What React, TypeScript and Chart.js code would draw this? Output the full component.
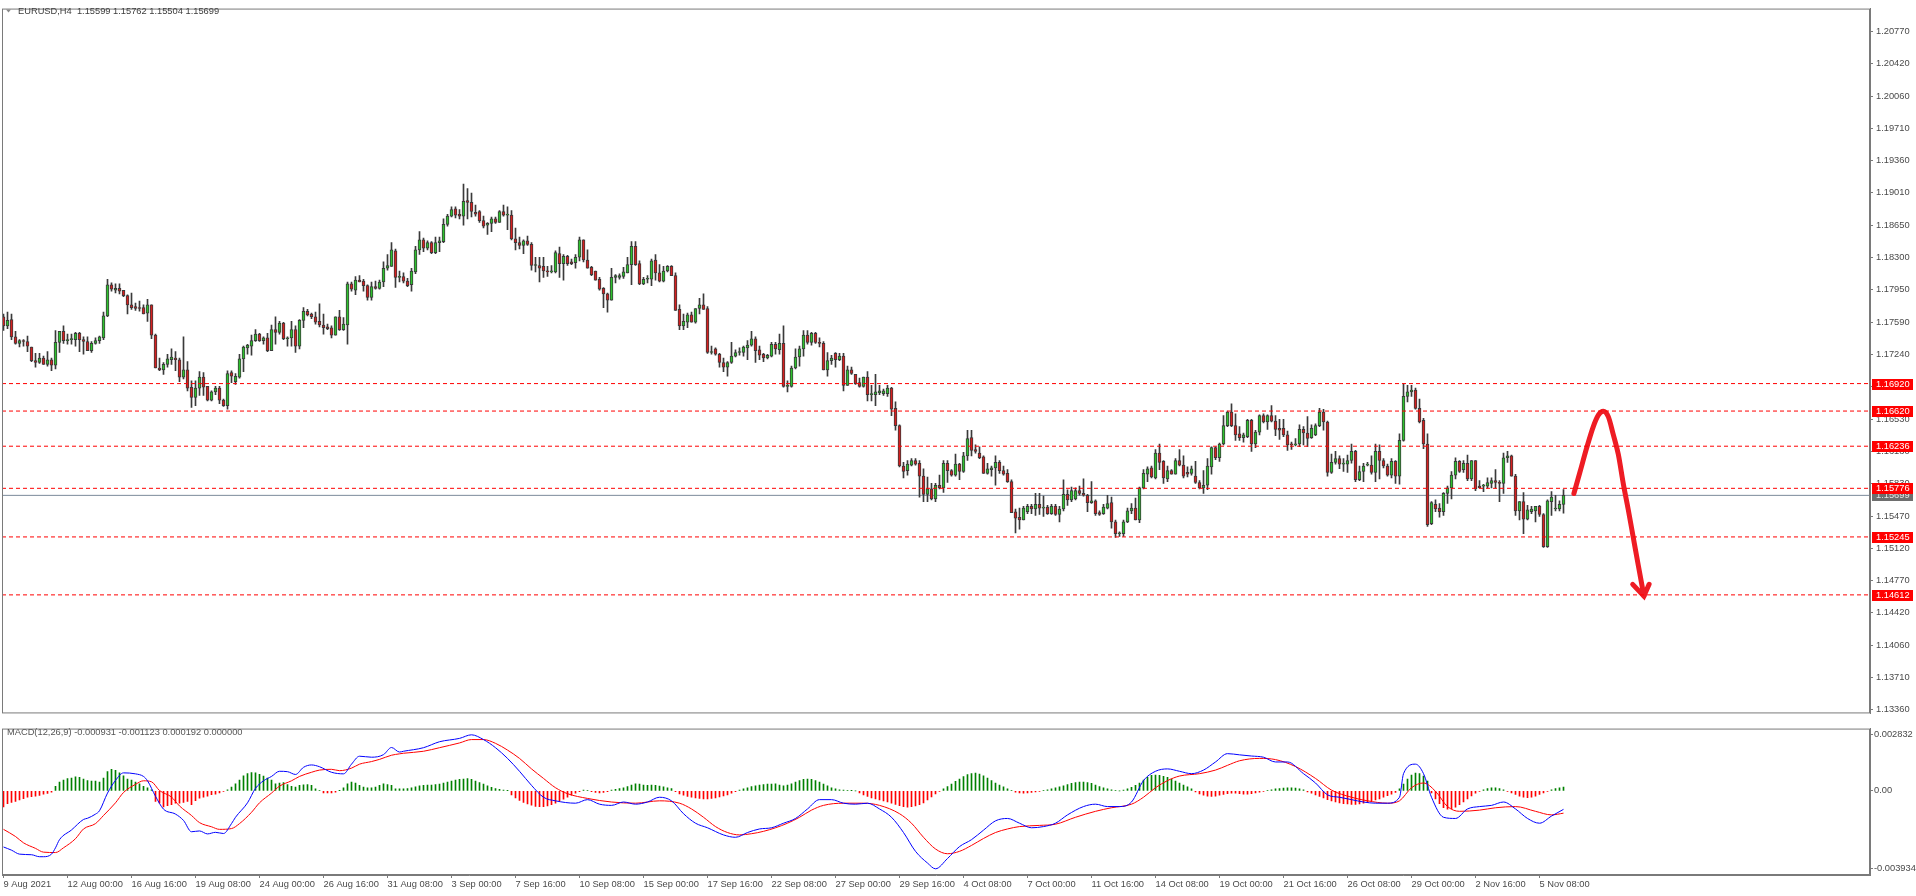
import React, { useEffect, useRef } from "react";
import { Chart, registerables } from "chart.js";
Chart.register(...registerables);

// ---------------- data ----------------
const opens = [
1.1765,1.1755,1.1762,1.1743,1.1736,1.1739,1.1738,1.1732,1.1717,1.1715,
1.1720,1.1713,1.1718,1.1712,1.1737,1.1749,1.1739,1.1740,1.1740,1.1747,
1.1740,1.1738,1.1728,1.1736,1.1739,1.1742,1.1766,1.1800,1.1794,1.1796,
1.1794,1.1788,1.1778,1.1776,1.1775,1.1775,1.1769,1.1778,1.1745,1.1709,
1.1707,1.1713,1.1718,1.1720,1.1718,1.1699,1.1707,1.1688,1.1677,1.1687,
1.1699,1.1689,1.1674,1.1683,1.1687,1.1674,1.1668,1.1704,1.1694,1.1699,
1.1719,1.1731,1.1733,1.1739,1.1746,1.1739,1.1742,1.1728,1.1751,1.1748,
1.1758,1.1741,1.1742,1.1751,1.1733,1.1761,1.1771,1.1768,1.1765,1.1760,
1.1756,1.1754,1.1753,1.1745,1.1765,1.1751,1.1756,1.1801,1.1794,1.1805,
1.1804,1.1799,1.1786,1.1798,1.1796,1.1803,1.1818,1.1820,1.1837,1.1808,
1.1809,1.1804,1.1800,1.1814,1.1838,1.1849,1.1840,1.1846,1.1835,1.1846,
1.1847,1.1866,1.1875,1.1883,1.1877,1.1875,1.1892,1.1890,1.1879,1.1880,
1.1870,1.1865,1.1867,1.1872,1.1868,1.1880,1.1876,1.1876,1.1850,1.1846,
1.1843,1.1848,1.1844,1.1821,1.1821,1.1820,1.1815,1.1814,1.1814,1.1834,
1.1823,1.1831,1.1825,1.1824,1.1830,1.1849,1.1827,1.1819,1.1815,1.1806,
1.1796,1.1790,1.1783,1.1808,1.1808,1.1809,1.1813,1.1822,1.1842,1.1823,
1.1801,1.1806,1.1806,1.1827,1.1813,1.1804,1.1815,1.1820,1.1810,1.1773,
1.1755,1.1759,1.1767,1.1759,1.1774,1.1778,1.1774,1.1726,1.1730,1.1724,
1.1715,1.1710,1.1715,1.1722,1.1726,1.1726,1.1731,1.1734,1.1741,1.1729,
1.1724,1.1720,1.1722,1.1735,1.1729,1.1736,1.1689,1.1689,1.1709,1.1721,
1.1730,1.1745,1.1737,1.1747,1.1737,1.1736,1.1707,1.1717,1.1725,1.1718,
1.1722,1.1690,1.1707,1.1702,1.1693,1.1689,1.1699,1.1680,1.1680,1.1682,
1.1681,1.1681,1.1687,1.1665,1.1646,1.1602,1.1597,1.1603,1.1608,1.1605,
1.1591,1.1571,1.1577,1.1566,1.1581,1.1578,1.1605,1.1597,1.1592,1.1604,
1.1596,1.1613,1.1633,1.1620,1.1616,1.1612,1.1594,1.1598,1.1600,1.1606,
1.1597,1.1594,1.1585,1.1552,1.1546,1.1543,1.1552,1.1558,1.1555,1.1560,
1.1556,1.1557,1.1550,1.1558,1.1549,1.1555,1.1571,1.1565,1.1566,1.1575,
1.1572,1.1570,1.1562,1.1564,1.1551,1.1550,1.1556,1.1562,1.1541,1.1528,
1.1528,1.1541,1.1553,1.1556,1.1543,1.1578,1.1593,1.1600,1.1589,1.1616,
1.1607,1.1588,1.1597,1.1593,1.1608,1.1603,1.1595,1.1594,1.1591,1.1584,
1.1578,1.1581,1.1601,1.1622,1.1611,1.1626,1.1646,1.1661,1.1646,1.1637,
1.1633,1.1634,1.1652,1.1626,1.1639,1.1657,1.1650,1.1657,1.1651,1.1643,
1.1643,1.1636,1.1626,1.1625,1.1626,1.1642,1.1638,1.1633,1.1636,1.1646,
1.1661,1.1650,1.1595,1.1606,1.1610,1.1604,1.1604,1.1608,1.1618,1.1587,
1.1596,1.1603,1.1603,1.1595,1.1618,1.1608,1.1602,1.1592,1.1607,1.1591,
1.1630,1.1678,1.1683,1.1685,1.1665,1.1652,1.1626,1.1539,1.1560,1.1556,
1.1552,1.1572,1.1578,1.1592,1.1607,1.1598,1.1605,1.1588,1.1608,1.1580,
1.1580,1.1580,1.1583,1.1586,1.1584,1.1583,1.1611,1.1613,1.1591,1.1553,
1.1563,1.1544,1.1552,1.1553,1.1558,1.1549,1.1514,1.1563,1.1555,1.1555,
1.15599];

const highs = [
1.1768,1.1770,1.1768,1.1749,1.1740,1.1740,1.1744,1.1732,1.1725,1.1725,
1.1722,1.1727,1.1720,1.1750,1.1749,1.1755,1.1746,1.1746,1.1748,1.1748,
1.1743,1.1743,1.1738,1.1742,1.1744,1.1770,1.1806,1.1802,1.1801,1.1801,
1.1794,1.1789,1.1791,1.1780,1.1782,1.1778,1.1784,1.1778,1.1746,1.1720,
1.1715,1.1724,1.1730,1.1727,1.1720,1.1743,1.1716,1.1695,1.1695,1.1705,
1.1704,1.1689,1.1684,1.1689,1.1689,1.1675,1.1706,1.1706,1.1703,1.1724,
1.1733,1.1735,1.1745,1.1751,1.1747,1.1743,1.1747,1.1756,1.1765,1.1760,
1.1759,1.1743,1.1760,1.1755,1.1762,1.1775,1.1773,1.1769,1.1770,1.1779,
1.1768,1.1757,1.1755,1.1765,1.1772,1.1764,1.1803,1.1803,1.1809,1.1810,
1.1806,1.1800,1.1803,1.1804,1.1805,1.1825,1.1833,1.1846,1.1839,1.1815,
1.1813,1.1807,1.1818,1.1842,1.1858,1.1851,1.1848,1.1847,1.1852,1.1852,
1.1872,1.1877,1.1885,1.1885,1.1882,1.1910,1.1905,1.1900,1.1887,1.1881,
1.1875,1.1868,1.1874,1.1874,1.1881,1.1887,1.1885,1.1881,1.1862,1.1852,
1.1849,1.1853,1.1846,1.1830,1.1830,1.1830,1.1820,1.1821,1.1837,1.1841,
1.1833,1.1832,1.1828,1.1833,1.1852,1.1849,1.1838,1.1820,1.1815,1.1808,
1.1797,1.1791,1.1818,1.1811,1.1812,1.1819,1.1830,1.1847,1.1847,1.1826,
1.1808,1.1810,1.1828,1.1833,1.1822,1.1820,1.1821,1.1821,1.1813,1.1778,
1.1768,1.1769,1.1770,1.1774,1.1785,1.1790,1.1776,1.1733,1.1731,1.1725,
1.1720,1.1716,1.1737,1.1729,1.1731,1.1733,1.1739,1.1749,1.1743,1.1733,
1.1725,1.1724,1.1737,1.1737,1.1746,1.1755,1.1695,1.1711,1.1730,1.1733,
1.1750,1.1750,1.1748,1.1748,1.1742,1.1738,1.1726,1.1723,1.1726,1.1725,
1.1725,1.1711,1.1710,1.1702,1.1698,1.1699,1.1705,1.1690,1.1702,1.1690,
1.1686,1.1690,1.1688,1.1672,1.1647,1.1606,1.1608,1.1610,1.1610,1.1608,
1.1599,1.1590,1.1583,1.1583,1.1592,1.1608,1.1608,1.1598,1.1615,1.1605,
1.1617,1.1641,1.1641,1.1625,1.1623,1.1613,1.1605,1.1602,1.1613,1.1608,
1.1602,1.1598,1.1587,1.1555,1.1556,1.1558,1.1560,1.1560,1.1572,1.1572,
1.1569,1.1559,1.1560,1.1560,1.1558,1.1587,1.1576,1.1579,1.1578,1.1580,
1.1588,1.1571,1.1585,1.1565,1.1553,1.1560,1.1570,1.1568,1.1543,1.1530,
1.1543,1.1556,1.1561,1.1567,1.1579,1.1598,1.1601,1.1602,1.1620,1.1626,
1.1608,1.1602,1.1598,1.1610,1.1620,1.1613,1.1601,1.1602,1.1607,1.1586,
1.1597,1.1610,1.1623,1.1623,1.1627,1.1657,1.1662,1.1670,1.1659,1.1645,
1.1638,1.1653,1.1653,1.1641,1.1658,1.1659,1.1658,1.1668,1.1657,1.1653,
1.1653,1.1640,1.1628,1.1632,1.1647,1.1645,1.1656,1.1647,1.1648,1.1665,
1.1664,1.1651,1.1615,1.1618,1.1613,1.1610,1.1614,1.1626,1.1619,1.1602,
1.1605,1.1606,1.1613,1.1626,1.1625,1.1610,1.1604,1.1610,1.1608,1.1637,
1.1692,1.1690,1.1690,1.1687,1.1675,1.1654,1.1637,1.1563,1.1565,1.1561,
1.1573,1.1580,1.1596,1.1611,1.1608,1.1608,1.1614,1.1608,1.1608,1.1586,
1.1582,1.1589,1.1589,1.1598,1.1586,1.1616,1.1618,1.1614,1.1593,1.1563,
1.1573,1.1559,1.1558,1.1558,1.1559,1.1550,1.1565,1.1574,1.1570,1.1564,
1.15762];

const lows = [
1.1750,1.1752,1.1740,1.1735,1.1732,1.1733,1.1727,1.1716,1.1710,1.1714,
1.1713,1.1711,1.1706,1.1708,1.1726,1.1736,1.1735,1.1735,1.1733,1.1727,
1.1724,1.1728,1.1726,1.1735,1.1736,1.1740,1.1765,1.1793,1.1791,1.1790,
1.1787,1.1768,1.1773,1.1772,1.1771,1.1768,1.1760,1.1741,1.1709,1.1706,
1.1702,1.1710,1.1713,1.1706,1.1694,1.1697,1.1684,1.1666,1.1668,1.1679,
1.1679,1.1673,1.1673,1.1680,1.1670,1.1667,1.1664,1.1693,1.1691,1.1698,
1.1705,1.1724,1.1723,1.1738,1.1738,1.1735,1.1727,1.1728,1.1735,1.1746,
1.1740,1.1733,1.1733,1.1726,1.1730,1.1753,1.1766,1.1763,1.1757,1.1754,
1.1746,1.1751,1.1742,1.1745,1.1750,1.1750,1.1735,1.1793,1.1789,1.1803,
1.1793,1.1783,1.1783,1.1795,1.1795,1.1798,1.1816,1.1820,1.1797,1.1803,
1.1802,1.1798,1.1793,1.1812,1.1833,1.1836,1.1838,1.1834,1.1834,1.1836,
1.1846,1.1864,1.1874,1.1873,1.1872,1.1865,1.1872,1.1874,1.1875,1.1868,
1.1862,1.1855,1.1858,1.1867,1.1868,1.1875,1.1860,1.1849,1.1838,1.1839,
1.1834,1.1843,1.1816,1.1814,1.1803,1.1808,1.1809,1.1813,1.1813,1.1808,
1.1805,1.1821,1.1822,1.1818,1.1826,1.1825,1.1818,1.1810,1.1805,1.1794,
1.1775,1.1770,1.1783,1.1802,1.1806,1.1807,1.1813,1.1800,1.1821,1.1800,
1.1800,1.1802,1.1799,1.1805,1.1803,1.1803,1.1814,1.1810,1.1772,1.1751,
1.1751,1.1753,1.1759,1.1758,1.1768,1.1773,1.1725,1.1724,1.1723,1.1710,
1.1705,1.1700,1.1714,1.1721,1.1723,1.1722,1.1718,1.1733,1.1715,1.1718,
1.1716,1.1719,1.1721,1.1724,1.1724,1.1688,1.1683,1.1688,1.1708,1.1711,
1.1722,1.1735,1.1734,1.1736,1.1732,1.1707,1.1700,1.1713,1.1710,1.1717,
1.1684,1.1690,1.1702,1.1691,1.1688,1.1688,1.1673,1.1673,1.1668,1.1680,
1.1679,1.1678,1.1657,1.1641,1.1601,1.1589,1.1592,1.1602,1.1603,1.1568,
1.1563,1.1563,1.1565,1.1563,1.1577,1.1573,1.1584,1.1591,1.1591,1.1587,
1.1595,1.1608,1.1613,1.1616,1.1610,1.1594,1.1593,1.1591,1.1581,1.1594,
1.1592,1.1584,1.1551,1.1529,1.1533,1.1543,1.1550,1.1550,1.1548,1.1549,
1.1547,1.1549,1.1549,1.1548,1.1541,1.1553,1.1559,1.1563,1.1565,1.1570,
1.1569,1.1552,1.1561,1.1548,1.1548,1.1549,1.1555,1.1534,1.1524,1.1525,
1.1525,1.1540,1.1550,1.1543,1.1540,1.1577,1.1585,1.1589,1.1588,1.1598,
1.1583,1.1585,1.1593,1.1593,1.1602,1.1589,1.1590,1.1592,1.1583,1.1577,
1.1572,1.1576,1.1593,1.1609,1.1607,1.1625,1.1645,1.1645,1.1630,1.1630,
1.1628,1.1633,1.1618,1.1622,1.1636,1.1649,1.1642,1.1650,1.1635,1.1631,
1.1634,1.1619,1.1620,1.1624,1.1623,1.1625,1.1623,1.1632,1.1635,1.1645,
1.1641,1.1591,1.1594,1.1604,1.1599,1.1596,1.1595,1.1605,1.1585,1.1586,
1.1585,1.1602,1.1593,1.1585,1.1588,1.1600,1.1591,1.1589,1.1583,1.1582,
1.1629,1.1672,1.1678,1.1664,1.1649,1.1621,1.1536,1.1538,1.1552,1.1546,
1.1548,1.1561,1.1566,1.1588,1.1595,1.1595,1.1586,1.1586,1.1575,1.1578,
1.1574,1.1578,1.1578,1.1578,1.1563,1.1572,1.1606,1.1591,1.1548,1.1543,
1.1528,1.1543,1.1550,1.1541,1.1547,1.1513,1.1513,1.1548,1.1553,1.1553,
1.15504];

const closes = [
1.1755,1.1761,1.1743,1.1736,1.1739,1.1738,1.1733,1.1717,1.1715,1.1720,
1.1713,1.1718,1.1712,1.1737,1.1749,1.1739,1.1740,1.1740,1.1747,1.1740,
1.1738,1.1728,1.1736,1.1739,1.1743,1.1766,1.1800,1.1795,1.1796,1.1793,
1.1788,1.1778,1.1775,1.1774,1.1774,1.1768,1.1778,1.1745,1.1709,1.1707,
1.1713,1.1719,1.1721,1.1718,1.1699,1.1707,1.1687,1.1677,1.1687,1.1699,
1.1688,1.1674,1.1683,1.1687,1.1674,1.1668,1.1703,1.1700,1.1700,1.1719,
1.1732,1.1734,1.1739,1.1746,1.1739,1.1742,1.1728,1.1751,1.1748,1.1758,
1.1741,1.1742,1.1751,1.1733,1.1761,1.1771,1.1767,1.1765,1.1759,1.1756,
1.1753,1.1752,1.1745,1.1765,1.1751,1.1757,1.1801,1.1795,1.1805,1.1803,
1.1799,1.1786,1.1798,1.1796,1.1803,1.1818,1.1821,1.1838,1.1808,1.1808,
1.1804,1.1799,1.1815,1.1838,1.1849,1.1840,1.1846,1.1835,1.1846,1.1848,
1.1866,1.1875,1.1882,1.1876,1.1875,1.1891,1.1890,1.1880,1.1877,1.1870,
1.1864,1.1867,1.1872,1.1868,1.1880,1.1876,1.1876,1.1850,1.1846,1.1843,
1.1848,1.1844,1.1821,1.1821,1.1818,1.1815,1.1814,1.1814,1.1835,1.1823,
1.1831,1.1823,1.1823,1.1830,1.1849,1.1827,1.1818,1.1811,1.1805,1.1795,
1.1790,1.1783,1.1808,1.1810,1.1810,1.1814,1.1822,1.1842,1.1822,1.1801,
1.1806,1.1806,1.1826,1.1813,1.1804,1.1815,1.1820,1.1810,1.1772,1.1755,
1.1760,1.1767,1.1759,1.1774,1.1778,1.1773,1.1726,1.1726,1.1724,1.1715,
1.1710,1.1715,1.1722,1.1726,1.1726,1.1732,1.1734,1.1741,1.1728,1.1723,
1.1720,1.1723,1.1735,1.1730,1.1736,1.1689,1.1689,1.1709,1.1721,1.1730,
1.1745,1.1737,1.1747,1.1737,1.1736,1.1707,1.1717,1.1720,1.1718,1.1722,
1.1690,1.1707,1.1703,1.1692,1.1689,1.1699,1.1680,1.1681,1.1683,1.1684,
1.1684,1.1687,1.1664,1.1646,1.1602,1.1596,1.1604,1.1608,1.1604,1.1591,
1.1571,1.1577,1.1566,1.1581,1.1578,1.1605,1.1597,1.1592,1.1604,1.1596,
1.1613,1.1632,1.1619,1.1618,1.1611,1.1594,1.1599,1.1600,1.1606,1.1597,
1.1593,1.1585,1.1551,1.1545,1.1543,1.1556,1.1558,1.1555,1.1560,1.1556,
1.1556,1.1550,1.1558,1.1549,1.1555,1.1571,1.1565,1.1575,1.1575,1.1572,
1.1570,1.1562,1.1564,1.1550,1.1549,1.1557,1.1561,1.1541,1.1528,1.1528,
1.1541,1.1553,1.1556,1.1543,1.1578,1.1594,1.1599,1.1590,1.1616,1.1606,
1.1589,1.1597,1.1593,1.1608,1.1603,1.1591,1.1593,1.1599,1.1584,1.1578,
1.1581,1.1602,1.1622,1.1611,1.1626,1.1646,1.1661,1.1646,1.1636,1.1633,
1.1636,1.1652,1.1626,1.1639,1.1657,1.1650,1.1657,1.1651,1.1642,1.1641,
1.1636,1.1625,1.1625,1.1626,1.1642,1.1638,1.1632,1.1643,1.1646,1.1661,
1.1650,1.1595,1.1606,1.1610,1.1604,1.1604,1.1608,1.1618,1.1587,1.1596,
1.1602,1.1603,1.1595,1.1618,1.1608,1.1602,1.1592,1.1607,1.1591,1.1630,
1.1678,1.1683,1.1685,1.1665,1.1650,1.1626,1.1538,1.1562,1.1555,1.1552,
1.1572,1.1578,1.1592,1.1607,1.1596,1.1605,1.1588,1.1608,1.1577,1.1578,
1.1580,1.1584,1.1586,1.1584,1.1583,1.1611,1.1613,1.1591,1.1553,1.1563,
1.1544,1.1554,1.1555,1.1558,1.1549,1.1514,1.1564,1.1568,1.1555,1.1560,
1.15699];

const levels = [1.16920, 1.16620, 1.16236, 1.15776, 1.15245, 1.14612];
const currentPrice = 1.15699;
const priceTicks = [1.20770,1.20420,1.20060,1.19710,1.19360,1.19010,1.18650,1.18300,1.17950,1.17590,1.17240,1.16890,1.16530,1.16180,1.15830,1.15470,1.15120,1.14770,1.14420,1.14060,1.13710,1.13360];
const dateLabels = ["9 Aug 2021","12 Aug 00:00","16 Aug 16:00","19 Aug 08:00","24 Aug 00:00","26 Aug 16:00","31 Aug 08:00","3 Sep 00:00","7 Sep 16:00","10 Sep 08:00","15 Sep 00:00","17 Sep 16:00","22 Sep 08:00","27 Sep 00:00","29 Sep 16:00","4 Oct 08:00","7 Oct 00:00","11 Oct 16:00","14 Oct 08:00","19 Oct 00:00","21 Oct 16:00","26 Oct 08:00","29 Oct 00:00","2 Nov 16:00","5 Nov 08:00"];
const barsPerDateLabel = 16;
const headerText = "EURUSD,H4  1.15599 1.15762 1.15504 1.15699";
const macdText = "MACD(12,26,9) -0.000931 -0.001123 0.000192 0.000000";
const macdTicks = [0.002832, 0, -0.003934];

const macdHistogram = [
-0.00081,-0.00065,-0.00058,-0.00053,-0.00045,-0.00039,-0.00032,-0.00029,-0.00026,-0.00023,
-0.00016,-0.00013,-0.00006,0.00023,0.00045,0.00055,0.00062,0.00065,0.00071,0.00068,
0.00060,0.00052,0.00049,0.00049,0.00044,0.00065,0.00097,0.00109,0.00104,0.00091,
0.00076,0.00060,0.00055,0.00044,0.00036,0.00023,0.00016,0.00006,-0.00053,-0.00062,
-0.00081,-0.00075,-0.00070,-0.00062,-0.00062,-0.00058,-0.00053,-0.00070,-0.00049,-0.00037,
-0.00032,-0.00026,-0.00019,-0.00016,-0.00010,-0.00003,0.00006,0.00019,0.00036,0.00055,
0.00076,0.00087,0.00092,0.00091,0.00084,0.00075,0.00065,0.00055,0.00036,0.00039,
0.00042,0.00032,0.00023,0.00019,0.00028,0.00031,0.00032,0.00028,0.00011,0.00003,
-0.00010,-0.00010,-0.00010,-0.00006,0.00001,0.00016,0.00036,0.00044,0.00039,0.00028,
0.00019,0.00016,0.00016,0.00019,0.00028,0.00036,0.00032,0.00028,0.00011,0.00011,
0.00010,0.00012,0.00015,0.00020,0.00025,0.00028,0.00030,0.00030,0.00032,0.00035,
0.00040,0.00045,0.00050,0.00055,0.00058,0.00060,0.00062,0.00058,0.00050,0.00042,0.00035,
0.00025,0.00018,0.00012,0.00008,0.00004,0.00001,
-0.00020,-0.00035,-0.00048,-0.00058,-0.00066,-0.00072,-0.00078,-0.00080,-0.00080,-0.00076,-0.00070,-0.00062,-0.00052,-0.00042,-0.00032,-0.00022,-0.00012,
-0.00004,0.00004,0.00002,-0.00004,-0.00008,-0.00010,-0.00008,-0.00004,0.00004,0.00008,0.00012,0.00016,
0.00022,0.00030,0.00036,0.00034,0.00030,0.00028,0.00030,0.00028,0.00024,0.00020,0.00016,0.00012,
-0.00004,-0.00015,-0.00022,-0.00028,-0.00032,-0.00035,-0.00038,-0.00040,-0.00040,-0.00038,-0.00035,-0.00030,-0.00025,-0.00020,-0.00012,
-0.00004,0.00004,0.00010,0.00016,0.00022,0.00026,0.00030,0.00032,0.00034,0.00035,0.00036,0.00030,0.00026,0.00030,0.00036,
0.00045,0.00052,0.00058,0.00060,0.00058,0.00052,0.00044,0.00035,
0.00025,0.00016,0.00010,0.00006,0.00004,0.00002,0.00001,0.00000,
-0.00010,-0.00020,-0.00028,-0.00035,-0.00040,-0.00045,-0.00050,-0.00056,-0.00062,-0.00068,-0.00075,-0.00080,-0.00082,-0.00080,-0.00076,-0.00070,-0.00060,-0.00045,
-0.00030,-0.00015,-0.00002,0.00010,0.00022,0.00035,
0.00048,0.00060,0.00072,0.00082,0.00088,0.00090,0.00085,0.00076,0.00065,0.00052,0.00040,
0.00030,0.00020,0.00010,0.00002,-0.00006,-0.00010,-0.00012,-0.00010,-0.00008,-0.00005,-0.00002,0.00002,0.00006,0.00010,
0.00015,0.00020,0.00026,0.00032,0.00038,0.00042,0.00045,0.00045,0.00042,0.00038,0.00030,0.00022,
0.00015,0.00010,0.00006,0.00002,0.00000,0.00004,0.00010,0.00018,0.00028,
0.00040,0.00055,0.00068,0.00078,0.00080,0.00078,0.00074,0.00068,0.00060,0.00050,0.00040,0.00030,0.00020,0.00010,
-0.00005,-0.00015,-0.00022,-0.00026,-0.00028,-0.00026,-0.00022,-0.00018,
-0.00014,-0.00012,-0.00012,-0.00014,-0.00016,-0.00016,-0.00014,-0.00010,-0.00006,-0.00002,0.00002,0.00006,
0.00010,0.00012,0.00014,0.00016,0.00016,0.00014,0.00010,0.00006,
-0.00005,-0.00012,-0.00020,-0.00028,-0.00036,-0.00044,-0.00050,-0.00056,-0.00060,-0.00064,-0.00066,-0.00068,-0.00068,-0.00066,-0.00062,-0.00058,-0.00052,-0.00046,-0.00040,-0.00032,-0.00024,-0.00016,-0.00008,
0.00010,0.00035,0.00060,0.00080,0.00090,0.00088,0.00075,0.00050,
-0.00010,-0.00040,-0.00065,-0.00085,-0.00092,-0.00090,-0.00082,-0.00070,-0.00055,-0.00040,
-0.00025,-0.00012,-0.00002,0.00006,0.00012,0.00016,0.00016,0.00012,
0.00006,-0.00002,-0.00010,-0.00018,-0.00026,-0.00032,-0.00034,-0.00032,-0.00026,
-0.00018,-0.00010,-0.00002,0.00006,0.00012,0.00016,0.000192];

const macdBars = [0,2,4,7,9,10,12,13,14,17,20,21,23,24,26,28,30,33,35,36,38,40,43,45,47,49,51,53,55,57,58,61,63,65,67,69,71,73,75,77,79,82,85,87,89,92,95,97,99,
100,105,109,114,117,120,123,126,129,132,135,138,143,146,149,152,155,158,161,164,167,170,173,176,180,183,186,189,192,195,198,201,204,207,210,213,216,219,222,225,228,231,233,236,239,242,245,248,251,254,257,260,263,266,270,273,276,279,282,285,288,291,294,297,300,303,306,309,312,315,318,321,325,328,331,334,337,340,343,346,349,350,353,355,357,360,363,366,369,372,375,378,381,384,387,390];
const macdMain = [-0.00283,-0.00299,-0.00319,-0.00322,-0.00332,-0.00332,-0.00319,-0.00287,-0.00246,-0.00197,-0.00144,-0.00138,-0.00117,-0.00100,-0.00011,0.00053,0.00091,0.00086,0.00073,0.00051,-0.00027,-0.00092,-0.00117,-0.00149,-0.00206,-0.00202,-0.00217,-0.00209,-0.00215,-0.00165,-0.00133,-0.00060,0.00013,0.00051,0.00073,0.00099,0.00097,0.00083,0.00119,0.00131,0.00122,0.00094,0.00086,0.00135,0.00175,0.00170,0.00183,0.00219,0.00196,
0.00200,0.00218,0.00248,0.00265,0.00283,0.00259,0.00218,0.00164,0.00099,0.00028,-0.00032,-0.00050,-0.00062,-0.00044,-0.00067,-0.00073,-0.00056,-0.00067,-0.00056,-0.00032,-0.00050,-0.00115,-0.00163,-0.00186,-0.00222,-0.00234,-0.00210,-0.00192,-0.00186,-0.00163,-0.00139,-0.00091,-0.00044,-0.00044,-0.00062,-0.00067,-0.00062,-0.00091,-0.00133,-0.00210,-0.00305,-0.00364,-0.00393,-0.00341,-0.00281,-0.00246,-0.00198,-0.00151,-0.00139,-0.00163,-0.00186,-0.00180,-0.00163,-0.00121,-0.00079,-0.00067,-0.00079,-0.00079,-0.00056,0.00052,0.00099,0.00111,0.00099,0.00087,0.00105,0.00146,0.00188,0.00182,0.00176,0.00170,0.00146,0.00146,0.00087,0.00040,-0.00020,-0.00032,-0.00044,-0.00056,-0.00062,-0.00062,-0.00032,0.00087,0.00135,0.00087,-0.00032,-0.00133,-0.00139,-0.00091,-0.00079,-0.00073,-0.00056,-0.00091,-0.00139,-0.00163,-0.00127,-0.000931];

const signalBars = [0,3,5,8,10,13,15,18,20,23,25,28,30,33,35,37,39,42,44,47,49,52,54,57,59,62,64,67,69,72,74,77,79,82,84,87,89,92,94,97,99,
100,105,109,114,117,120,123,126,129,132,135,138,141,146,152,158,164,169,172,175,178,181,184,187,190,193,196,199,202,205,210,215,219,224,227,230,233,236,239,242,245,248,251,254,259,263,268,273,277,282,285,288,291,294,299,303,306,309,314,318,323,328,332,337,341,346,349,352,355,358,361,364,369,373,378,383,387,390];
const signalLine = [-0.00194,-0.00230,-0.00262,-0.00290,-0.00309,-0.00311,-0.00287,-0.00241,-0.00192,-0.00165,-0.00124,-0.00060,-0.00008,0.00033,0.00051,0.00046,0.00002,-0.00031,-0.00076,-0.00124,-0.00160,-0.00181,-0.00194,-0.00190,-0.00165,-0.00108,-0.00060,-0.00011,0.00024,0.00051,0.00073,0.00094,0.00105,0.00109,0.00102,0.00115,0.00135,0.00148,0.00159,0.00180,0.00187,
0.00190,0.00200,0.00218,0.00242,0.00259,0.00259,0.00240,0.00206,0.00164,0.00111,0.00063,0.00016,-0.00014,-0.00038,-0.00056,-0.00062,-0.00050,-0.00062,-0.00091,-0.00133,-0.00180,-0.00210,-0.00222,-0.00216,-0.00204,-0.00186,-0.00163,-0.00133,-0.00097,-0.00073,-0.00062,-0.00062,-0.00073,-0.00115,-0.00163,-0.00234,-0.00293,-0.00317,-0.00305,-0.00275,-0.00240,-0.00210,-0.00192,-0.00180,-0.00174,-0.00168,-0.00133,-0.00103,-0.00085,-0.00067,-0.00032,0.00016,0.00052,0.00075,0.00087,0.00105,0.00129,0.00152,0.00164,0.00158,0.00123,0.00063,0.00004,-0.00032,-0.00050,-0.00062,-0.00050,0.00016,0.00040,-0.00002,-0.00079,-0.00103,-0.00097,-0.00085,-0.00079,-0.00103,-0.00121,-0.001123];

// hand-drawn forecast arrow (bar position, price)
const arrowBars = [392.6, 394.1, 395.8, 397.45, 398.7, 399.95, 401.2, 402.45, 403.7, 404.95, 406.2, 407.45, 408.7, 410.1];
const arrowPrices = [1.15719, 1.15951, 1.16219, 1.16451, 1.16576, 1.16619, 1.16559, 1.16362, 1.16147, 1.15826, 1.15541, 1.15237, 1.14934, 1.14600];
const arrowHeadBars = [407.3, 410.1, 411.4];
const arrowHeadPrices = [1.14727, 1.14598, 1.14727];

// ---------------- styling ----------------
const FONT = '"Liberation Sans", Arial, sans-serif';
const FS = 9.3;
const X_MIN = -0.375;
const X_MAX = 466.625;
const Y_MIN = 1.133172;
const Y_MAX = 1.210163;
const M_MIN = -0.0042428;
const M_MAX = 0.0031444;
const AXIS_W = 46;
const BULL = "#2ec12e";
const BEAR = "#d42020";
const OUTLINE = "#3a3a3a";
const GRID = "#7a7a7a";
const TXT = "#4a4a4a";

Chart.defaults.font.family = FONT;
Chart.defaults.font.size = FS;

function mainConfig(): any {
  const n = Math.min(opens.length, highs.length, lows.length, closes.length);
  const bodies: any[] = [];
  const wicks: any[] = [];
  const colors: string[] = [];
  for (let i = 0; i < n; i++) {
    bodies.push({ x: i, y: [Math.min(opens[i], closes[i]), Math.max(opens[i], closes[i])] });
    wicks.push({ x: i, y: [lows[i], highs[i]] });
    colors.push(closes[i] >= opens[i] ? BULL : BEAR);
  }
  const levelSets = levels.map((lv) => ({
    type: "line",
    data: [{ x: X_MIN, y: lv }, { x: X_MAX, y: lv }],
    borderColor: "#ff0000",
    borderWidth: 1,
    borderDash: [4, 3],
    pointRadius: 0,
    order: 0,
  }));
  const overlay = {
    id: "mainOverlay",
    afterDraw(chart: any) {
      const { ctx, chartArea: a, scales } = chart;
      const ys = scales.y;
      ctx.save();
      ctx.strokeStyle = GRID;
      ctx.lineWidth = 1;
      ctx.strokeRect(a.left + 0.5, a.top + 0.5, a.right - a.left - 1, a.bottom - a.top - 1);
      // header
      ctx.fillStyle = "#8a8a8a";
      ctx.beginPath();
      ctx.moveTo(6, 9.5);
      ctx.lineTo(11, 9.5);
      ctx.lineTo(8.5, 12.5);
      ctx.closePath();
      ctx.fill();
      ctx.font = `${FS}px ${FONT}`;
      ctx.textBaseline = "middle";
      ctx.fillStyle = "#3c3c3c";
      ctx.fillText(headerText, 18, 11.5);
      // price boxes
      const box = (v: number, bg: string, fg: string) => {
        const py = Math.round(ys.getPixelForValue(v));
        ctx.fillStyle = bg;
        ctx.fillRect(a.right + 2, py - 5, 41, 11);
        ctx.fillStyle = fg;
        ctx.fillText(v.toFixed(5), a.right + 6, py + 0.5);
      };
      box(currentPrice, "#6e6e6e", "#e6e6e6");
      levels.forEach((lv) => box(lv, "#ff0000", "#ffffff"));
      ctx.restore();
    },
  };
  return {
    type: "bar",
    data: {
      datasets: [
        { type: "bar", data: bodies, backgroundColor: colors, borderColor: OUTLINE, borderWidth: 1, borderSkipped: false, barThickness: 3, grouped: false, minBarLength: 1, order: 2 },
        { type: "bar", data: wicks, backgroundColor: OUTLINE, borderWidth: 0, barThickness: 1, grouped: false, order: 3 },
        { type: "line", data: [{ x: X_MIN, y: currentPrice }, { x: X_MAX, y: currentPrice }], borderColor: "#7b8a9a", borderWidth: 1, pointRadius: 0, order: 4 },
        ...levelSets,
        { type: "line", data: arrowBars.map((b, k) => ({ x: b, y: arrowPrices[k] })), borderColor: "#ee1c24", borderWidth: 5, pointRadius: 0, cubicInterpolationMode: "monotone", borderCapStyle: "round", order: 0 },
        { type: "line", data: arrowHeadBars.map((b, k) => ({ x: b, y: arrowHeadPrices[k] })), borderColor: "#ee1c24", borderWidth: 5, pointRadius: 0, tension: 0, borderCapStyle: "round", borderJoinStyle: "miter", order: 0 },
      ],
    },
    options: {
      animation: false,
      responsive: false,
      maintainAspectRatio: false,
      events: [],
      layout: { padding: { left: 2, top: 2, right: 0, bottom: 1 } },
      plugins: { legend: { display: false }, tooltip: { enabled: false } },
      scales: {
        x: { type: "linear", min: X_MIN, max: X_MAX, display: false, offset: false, grid: { offset: false } },
        y: {
          position: "right",
          min: Y_MIN,
          max: Y_MAX,
          beginAtZero: false,
          afterBuildTicks: (s: any) => { s.ticks = priceTicks.map((v) => ({ value: v })); },
          afterFit: (s: any) => { s.width = AXIS_W; },
          ticks: { callback: (v: any) => Number(v).toFixed(5), color: TXT, padding: 3, autoSkip: false, font: { family: FONT, size: FS } },
          grid: { drawOnChartArea: false, tickLength: 3, color: GRID },
          border: { color: GRID },
        },
      },
    },
    plugins: [overlay],
  };
}

function macdConfig(): any {
  const hist = macdHistogram.map((v, i) => ({ x: i, y: v }));
  const overlay = {
    id: "macdOverlay",
    afterDraw(chart: any) {
      const { ctx, chartArea: a } = chart;
      ctx.save();
      ctx.strokeStyle = GRID;
      ctx.lineWidth = 1;
      ctx.strokeRect(a.left + 0.5, a.top + 0.5, a.right - a.left - 1, a.bottom - a.top - 1);
      ctx.font = `${FS}px ${FONT}`;
      ctx.textBaseline = "middle";
      ctx.fillStyle = "#555555";
      ctx.fillText(macdText, 7, 10);
      ctx.restore();
    },
  };
  return {
    type: "bar",
    data: {
      datasets: [
        { type: "line", data: macdBars.map((b, k) => ({ x: b, y: macdMain[k] })), borderColor: "#0000ff", borderWidth: 1, pointRadius: 0, cubicInterpolationMode: "monotone", order: 0 },
        { type: "line", data: signalBars.map((b, k) => ({ x: b, y: signalLine[k] })), borderColor: "#ff0000", borderWidth: 1, pointRadius: 0, cubicInterpolationMode: "monotone", order: 1 },
        { type: "bar", data: hist, backgroundColor: macdHistogram.map((v) => (v >= 0 ? "#008000" : "#ff0000")), borderWidth: 0, barThickness: 1, grouped: false, order: 2 },
      ],
    },
    options: {
      animation: false,
      responsive: false,
      maintainAspectRatio: false,
      events: [],
      layout: { padding: { left: 2, top: 1, right: 0, bottom: 0 } },
      plugins: { legend: { display: false }, tooltip: { enabled: false } },
      scales: {
        x: {
          type: "linear",
          min: X_MIN,
          max: X_MAX,
          offset: false,
          position: "bottom",
          afterBuildTicks: (s: any) => { s.ticks = dateLabels.map((_, k) => ({ value: k * barsPerDateLabel })); },
          afterFit: (s: any) => { s.height = 21; },
          ticks: { callback: (_v: any, idx: number) => dateLabels[idx], align: "start", maxRotation: 0, minRotation: 0, autoSkip: false, padding: 1, color: TXT, font: { family: FONT, size: FS } },
          grid: { drawOnChartArea: false, tickLength: 3, color: GRID, offset: false },
          border: { color: GRID },
        },
        y: {
          position: "right",
          min: M_MIN,
          max: M_MAX,
          beginAtZero: false,
          afterBuildTicks: (s: any) => { s.ticks = macdTicks.map((v) => ({ value: v })); },
          afterFit: (s: any) => { s.width = AXIS_W; },
          ticks: { callback: (v: any) => (Number(v) === 0 ? "0.00" : Number(v).toFixed(6)), color: TXT, padding: 1, autoSkip: false, font: { family: FONT, size: FS } },
          grid: { drawOnChartArea: false, tickLength: 3, color: GRID },
          border: { color: GRID },
        },
      },
    },
    plugins: [overlay],
  };
}

export default function App() {
  const mainRef = useRef<HTMLCanvasElement>(null);
  const macdRef = useRef<HTMLCanvasElement>(null);
  useEffect(() => {
    const c1 = new Chart(mainRef.current as HTMLCanvasElement, mainConfig());
    const c2 = new Chart(macdRef.current as HTMLCanvasElement, macdConfig());
    return () => {
      c1.destroy();
      c2.destroy();
    };
  }, []);
  return (
    <div style={{ position: "absolute", left: 0, top: 0, width: 1916, height: 896, background: "#ffffff", overflow: "hidden" }}>
      <canvas ref={mainRef} width={1916} height={722} style={{ position: "absolute", left: 0, top: 0, width: 1916, height: 722 }} />
      <canvas ref={macdRef} width={1916} height={174} style={{ position: "absolute", left: 0, top: 722, width: 1916, height: 174 }} />
    </div>
  );
}
